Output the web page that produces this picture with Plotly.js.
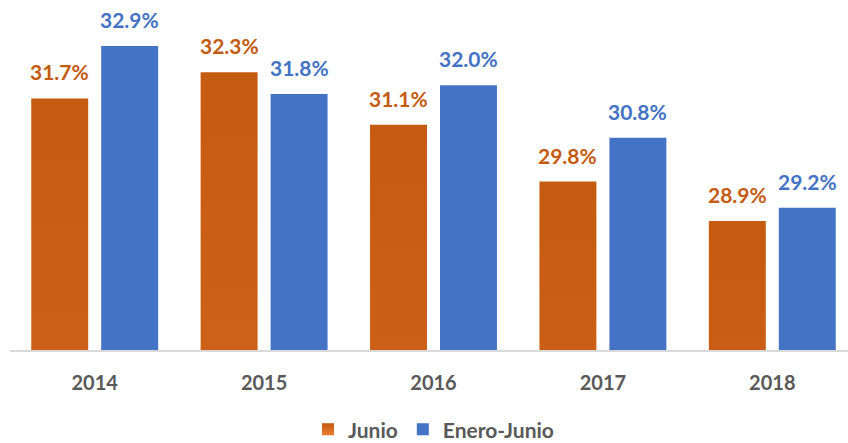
<!DOCTYPE html>
<html><head><meta charset="utf-8">
<script src="https://cdn.plot.ly/plotly-3.0.1.min.js"></script>
<style>html,body{margin:0;padding:0;overflow:hidden;background:#fff;width:848px;height:443px}</style>
</head><body>
<div id="chart"></div>
<script>
const years = ['2014','2015','2016','2017','2018'];
const junio = [31.7, 32.3, 31.1, 29.8, 28.9];
const eneroJunio = [32.9, 31.8, 32.0, 30.8, 29.2];
const seriesNames = ['Junio', 'Enero-Junio'];

const orangeDark = '#C55A11', orangeLight = '#ED7D31', blue = '#4472C4';
const fontFam = 'Lato, "Open Sans", sans-serif';

const traces = [
  {type:'bar', name:seriesNames[0], x:years, y:junio, marker:{color:orangeDark}, hoverinfo:'none'},
  {type:'bar', name:seriesNames[1], x:years, y:eneroJunio, marker:{color:blue}, hoverinfo:'none'}
];

const annotations = [];
years.forEach((yr,i)=>{
  annotations.push({x:i, y:junio[i], xref:'x', yref:'y', text:junio[i].toFixed(1)+'%', showarrow:false,
    xshift:-35, yshift:12, yanchor:'bottom', font:{family:fontFam, size:21, weight:700, color:orangeDark}});
  annotations.push({x:i, y:eneroJunio[i], xref:'x', yref:'y', text:eneroJunio[i].toFixed(1)+'%', showarrow:false,
    xshift:35, yshift:12, yanchor:'bottom', font:{family:fontFam, size:21, weight:700, color:blue}});
});

const layout = {
  width:857, height:443,
  margin:{l:10, r:0, t:0, b:93, pad:0},
  paper_bgcolor:'#fff', plot_bgcolor:'#fff',
  barmode:'group', bargap:0.174, bargroupgap:0.186,
  xaxis:{type:'category', range:[-0.5, years.length-0.5], autorange:false, showline:true, linecolor:'#D9D9D9', linewidth:2, ticks:'', ticklabelstandoff:14,
    tickfont:{family:fontFam, size:20, weight:700, color:'#595959'}, showgrid:false, zeroline:false, fixedrange:true},
  yaxis:{range:[25.95, 33.95], autorange:false, visible:false, showgrid:false, zeroline:false, fixedrange:true},
  showlegend:true,
  legend:{orientation:'h', x:0.5, xanchor:'center', xref:'paper', yref:'container', y:0.03, yanchor:'middle',
    font:{family:fontFam, size:21, weight:700, color:'#595959'}, itemclick:false, itemdoubleclick:false},
  annotations:annotations
};

Plotly.newPlot('chart', traces, layout, {displayModeBar:false, staticPlot:true}).then(applyGradient);

function applyGradient(){
  const svg = document.querySelector('#chart .main-svg');
  const ns = 'http://www.w3.org/2000/svg';
  let defs = svg.querySelector('defs');
  if(!defs){defs = document.createElementNS(ns,'defs'); svg.insertBefore(defs, svg.firstChild);}
  const g = document.createElementNS(ns,'linearGradient');
  g.setAttribute('id','junioGrad'); g.setAttribute('x1','0'); g.setAttribute('y1','0'); g.setAttribute('x2','0'); g.setAttribute('y2','1');
  [[0,orangeDark],[1,orangeLight]].forEach(([o,c])=>{
    const s = document.createElementNS(ns,'stop'); s.setAttribute('offset',o); s.setAttribute('stop-color',c); g.appendChild(s);
  });
  defs.appendChild(g);
  const barTraces = document.querySelectorAll('#chart .barlayer .trace');
  if(barTraces[0]) barTraces[0].querySelectorAll('path').forEach(p=>{p.style.fill='url(#junioGrad)';});
  const legTraces = document.querySelectorAll('#chart .legend .traces');
  if(legTraces[0]) legTraces[0].querySelectorAll('.legendpoints path').forEach(p=>{p.style.fill='url(#junioGrad)';});
}
</script>
</body></html>
